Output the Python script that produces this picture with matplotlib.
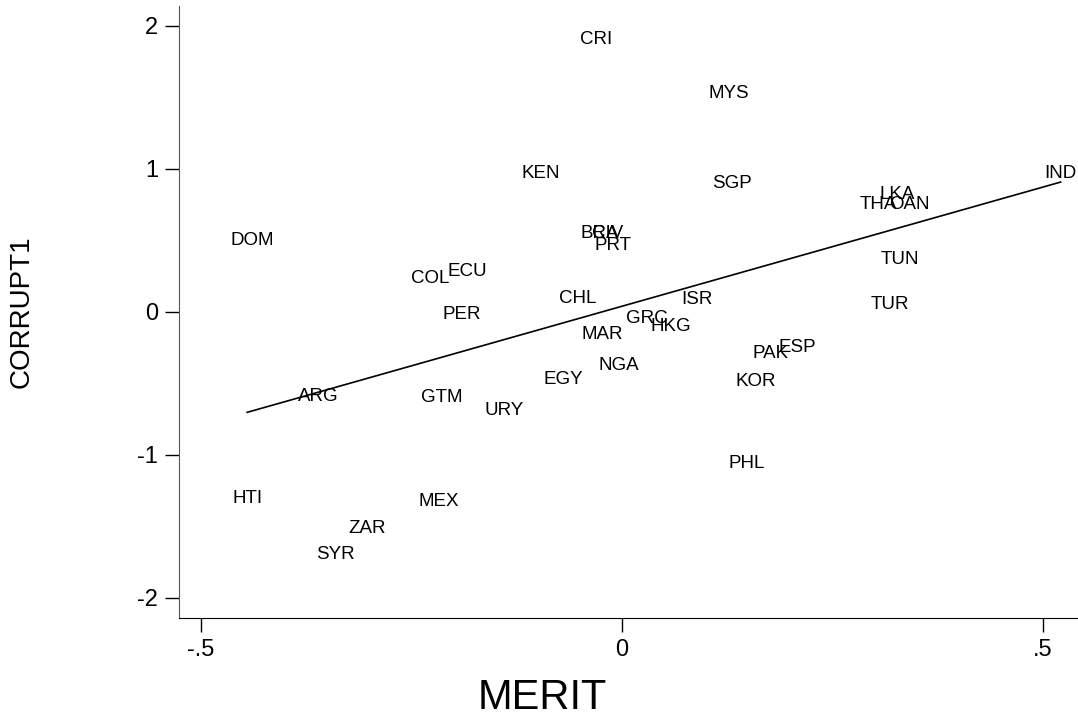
import numpy as np
from matplotlib import pyplot as plt

plt.rcParams['font.family'] = ['Liberation Sans', 'DejaVu Sans']
plt.rcParams['axes.unicode_minus'] = False

countries = ['CRI', 'MYS', 'KEN', 'SGP', 'IND', 'LKA', 'THA', 'OAN', 'BRA', 'CIV',
             'PRT', 'DOM', 'COL', 'ECU', 'PER', 'ARG', 'GTM', 'URY', 'CHL', 'GRC',
             'HKG', 'ISR', 'MAR', 'NGA', 'EGY', 'PAK', 'ESP', 'KOR', 'TUN', 'TUR',
             'PHL', 'HTI', 'MEX', 'ZAR', 'SYR']
merit = [-0.031, 0.127, -0.096, 0.131, 0.521, 0.327, 0.304, 0.341, -0.026, -0.017,
         -0.010, -0.439, -0.228, -0.183, -0.190, -0.361, -0.214, -0.140, -0.053, 0.029,
         0.058, 0.089, -0.023, -0.004, -0.069, 0.177, 0.208, 0.159, 0.330, 0.318,
         0.148, -0.445, -0.217, -0.302, -0.340]
corrupt1 = [1.916, 1.538, 0.979, 0.909, 0.979, 0.832, 0.762, 0.762, 0.559, 0.559,
            0.476, 0.510, 0.245, 0.294, -0.007, -0.580, -0.587, -0.678, 0.105, -0.035,
            -0.091, 0.098, -0.147, -0.364, -0.462, -0.280, -0.238, -0.476, 0.378, 0.063,
            -1.049, -1.294, -1.315, -1.497, -1.685]

x_ticks = [-0.5, 0, 0.5]
x_tick_labels = ['-.5', '0', '.5']
y_ticks = [-2, -1, 0, 1, 2]

fig = plt.figure(figsize=(10.78, 7.21), dpi=100)
ax = fig.add_axes([0.166, 0.1429, 0.834, 0.849])

# labels are centred on the points, no markers (like Stata mlabpos(0))
for name, xv, yv in zip(countries, merit, corrupt1):
    ax.text(xv, yv, name, ha='center', va='center_baseline', fontsize=13.5, color='black')

# linear fit over the observed range
slope, intercept = np.polyfit(merit, corrupt1, 1)
xs = np.array([min(merit), max(merit)])
ax.plot(xs, intercept + slope * xs, color='black', lw=1.2)

ax.set_xlim(-0.526, 0.5416)
ax.set_ylim(-2.14, 2.14)
ax.set_xticks(x_ticks)
ax.set_xticklabels(x_tick_labels)
ax.set_yticks(y_ticks)
ax.tick_params(axis='both', direction='out', length=10, width=1, labelsize=17, pad=5)

ax.spines['top'].set_visible(False)
ax.spines['right'].set_visible(False)
ax.spines['left'].set_color('#555555')

fig.text(542 / 1078, 1 - 698 / 721, 'MERIT', ha='center', va='center', fontsize=30)
fig.text(22 / 1078, 1 - 312 / 721, 'CORRUPT1', ha='center', va='center',
         rotation=90, fontsize=20)

fig.savefig('out.png', dpi=100)
